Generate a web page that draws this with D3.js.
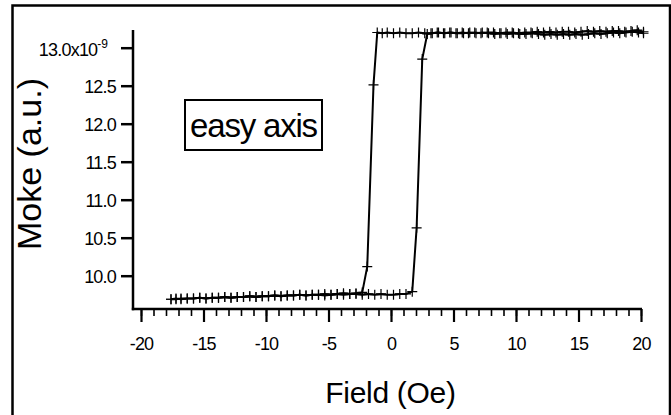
<!DOCTYPE html>
<html lang="en"><head><meta charset="UTF-8">
<title>Moke loop - easy axis</title>
<style type="text/css">
	body {
		margin: 0;
		background-color: #fff;
	}
	svg text {
		font-family: "Liberation Sans", Arial, sans-serif;
		fill: #000;
	}
</style>
<script src="https://d3js.org/d3.v7.min.js" charset="utf-8"></script>
</head>
<body>
<div id="chart"></div>

<script type="text/javascript">
	// field sweep from +20 down to -17.6 (Oe)
	var fieldDown = [20.2, 19.7, 19.2, 18.7, 18.2, 17.7, 17.2, 16.7, 16.2, 15.7,
		15.2, 14.7, 14.2, 13.7, 13.2, 12.7, 12.2, 11.7, 11.2, 10.7,
		10.2, 9.7, 9.2, 8.7, 8.2, 7.7, 7.2, 6.7, 6.2, 5.7,
		5.2, 4.7, 4.2, 3.7, 3.2, 2.7, 2.2, 1.7, 1.2, 0.7,
		0.2, -0.3, -0.7, -1.1, -1.4, -1.9, -2.3, -2.8, -3.3, -3.8,
		-4.3, -4.8, -5.3, -5.8, -6.3, -6.8, -7.3, -7.8, -8.3, -8.8,
		-9.3, -9.8, -10.3, -10.8, -11.3, -11.8, -12.3, -12.8, -13.3, -13.8,
		-14.3, -14.8, -15.3, -15.8, -16.3, -16.8, -17.2, -17.6];
	// moke signal (x10^-9) for the down sweep
	var mokeDown = [13.21, 13.23, 13.22, 13.21, 13.22, 13.22, 13.21, 13.22, 13.21, 13.22,
		13.21, 13.20, 13.21, 13.21, 13.20, 13.21, 13.20, 13.21, 13.20, 13.20,
		13.19, 13.20, 13.20, 13.19, 13.20, 13.20, 13.19, 13.20, 13.19, 13.20,
		13.19, 13.20, 13.19, 13.20, 13.19, 13.19, 13.20, 13.19, 13.19, 13.20,
		13.19, 13.20, 13.19, 13.20, 12.51, 10.12, 9.78, 9.77, 9.76, 9.77,
		9.76, 9.75, 9.76, 9.75, 9.75, 9.74, 9.75, 9.74, 9.74, 9.73,
		9.74, 9.73, 9.73, 9.72, 9.73, 9.72, 9.72, 9.71, 9.72, 9.71,
		9.71, 9.70, 9.71, 9.70, 9.70, 9.70, 9.69, 9.69];

	// field sweep back up from -17.6 to +20
	var fieldUp = [-17.6, -17.2, -16.8, -16.3, -15.8, -15.3, -14.8, -14.3, -13.8, -13.3,
		-12.8, -12.3, -11.8, -11.3, -10.8, -10.3, -9.8, -9.3, -8.8, -8.3,
		-7.8, -7.3, -6.8, -6.3, -5.8, -5.3, -4.8, -4.3, -3.8, -3.3,
		-2.8, -2.3, -1.8, -1.3, -0.8, -0.3, 0.2, 0.7, 1.2, 1.7,
		2.05, 2.5, 2.9, 3.3, 3.8, 4.3, 4.8, 5.3, 5.8, 6.3,
		6.8, 7.3, 7.8, 8.3, 8.8, 9.3, 9.8, 10.3, 10.8, 11.3,
		11.8, 12.3, 12.8, 13.3, 13.8, 14.3, 14.8, 15.3, 15.8, 16.3,
		16.8, 17.3, 17.8, 18.3, 18.8, 19.3, 19.8, 20.2];
	var mokeUp = [9.69, 9.70, 9.69, 9.70, 9.70, 9.71, 9.70, 9.71, 9.71, 9.72,
		9.71, 9.72, 9.72, 9.73, 9.72, 9.73, 9.73, 9.74, 9.73, 9.74,
		9.74, 9.75, 9.74, 9.75, 9.75, 9.74, 9.75, 9.76, 9.75, 9.76,
		9.76, 9.75, 9.76, 9.75, 9.76, 9.75, 9.75, 9.76, 9.76, 9.79,
		10.63, 12.85, 13.18, 13.19, 13.20, 13.19, 13.20, 13.19, 13.19, 13.20,
		13.19, 13.20, 13.19, 13.18, 13.19, 13.18, 13.19, 13.18, 13.18, 13.19,
		13.18, 13.17, 13.18, 13.17, 13.18, 13.17, 13.18, 13.17, 13.18, 13.19,
		13.18, 13.19, 13.20, 13.19, 13.20, 13.21, 13.20, 13.19];

	var xTicks = [-20, -15, -10, -5, 0, 5, 10, 15, 20];
	var xTickLabels = ["-20", "-15", "-10", "-5", "0", "5", "10", "15", "20"];
	var yTicks = [10.0, 10.5, 11.0, 11.5, 12.0, 12.5, 13.0];
	var yTickLabels = ["10.0", "10.5", "11.0", "11.5", "12.0", "12.5", "13.0x10"];

	var W = 671, H = 415;
	var svg = d3.select("#chart")
		.append("svg")
		.attr("width", W)
		.attr("height", H);

	// outer frame
	svg.append("rect")
		.attr("x", 12.5)
		.attr("y", 5.5)
		.attr("width", 657.5)
		.attr("height", 420)
		.attr("fill", "none")
		.attr("stroke", "#000")
		.attr("stroke-width", 2.5);

	var x = d3.scaleLinear().domain([-20, 20]).range([141, 641]);
	var y = d3.scaleLinear().domain([10, 13]).range([275.7, 47.7]);
	var axisX = 133, axisY = 309;

	// x axis: minor ticks every 1 Oe, major every 5
	var xMinor = d3.axisBottom(x).tickValues(d3.range(-20, 21, 1))
		.tickSize(7).tickSizeOuter(0).tickFormat("");
	svg.append("g")
		.attr("transform", "translate(0," + axisY + ")")
		.call(xMinor)
		.call(function (g) {
			g.select(".domain").remove();
			g.selectAll(".tick line").attr("stroke", "#000").attr("stroke-width", 1.6);
		});

	var xMajor = d3.axisBottom(x).tickValues(xTicks)
		.tickSize(13).tickSizeOuter(0)
		.tickFormat(function (d, i) { return xTickLabels[i]; });
	svg.append("g")
		.attr("transform", "translate(0," + axisY + ")")
		.call(xMajor)
		.call(function (g) {
			g.select(".domain").remove();
			g.selectAll(".tick line").attr("stroke", "#000").attr("stroke-width", 2.2);
			g.selectAll(".tick text")
				.attr("y", 40.5).attr("dy", 0)
				.style("font-size", "18px")
				.style("letter-spacing", "-0.8px")
				.style("font-family", "'Liberation Sans', Arial, sans-serif");
		});

	// y axis
	var yAxis = d3.axisLeft(y).tickValues(yTicks)
		.tickSize(12).tickSizeOuter(0)
		.tickFormat(function (d, i) { return yTickLabels[i]; });
	svg.append("g")
		.attr("transform", "translate(" + axisX + ",0)")
		.call(yAxis)
		.call(function (g) {
			g.select(".domain").remove();
			g.selectAll(".tick line").attr("stroke", "#000").attr("stroke-width", 2.5);
			g.selectAll(".tick text")
				.attr("x", -17).attr("dy", "0.35em")
				.style("font-size", "18px")
				.style("letter-spacing", "-0.8px")
				.style("font-family", "'Liberation Sans', Arial, sans-serif");
		});
	// exponent on the top label
	svg.selectAll("g .tick text")
		.filter(function () { return this.textContent === "13.0x10"; })
		.attr("x", -25).attr("dy", "0.42em")
		.append("tspan")
		.attr("dy", -8)
		.style("font-size", "12px")
		.style("letter-spacing", "0px")
		.text("-9");

	// axis lines
	svg.append("line")
		.attr("x1", axisX).attr("x2", axisX)
		.attr("y1", 30).attr("y2", axisY + 1.2)
		.attr("stroke", "#000").attr("stroke-width", 2.5);
	svg.append("line")
		.attr("x1", axisX - 1.2).attr("x2", x(20) + 1)
		.attr("y1", axisY).attr("y2", axisY)
		.attr("stroke", "#000").attr("stroke-width", 2.5);

	// data
	var down = fieldDown.map(function (f, i) { return [f, mokeDown[i]]; });
	var up = fieldUp.map(function (f, i) { return [f, mokeUp[i]]; });
	var line = d3.line()
		.x(function (d) { return x(d[0]); })
		.y(function (d) { return y(d[1]); });

	[down, up].forEach(function (s) {
		svg.append("path")
			.datum(s)
			.attr("d", line)
			.attr("fill", "none")
			.attr("stroke", "#000")
			.attr("stroke-width", 2)
			.attr("stroke-linejoin", "round");
	});

	svg.selectAll("path.mark")
		.data(down.concat(up))
		.enter()
		.append("path")
		.attr("class", "mark")
		.attr("transform", function (d) { return "translate(" + x(d[0]) + "," + y(d[1]) + ")"; })
		.attr("d", "M-5,0H5M0,-5V5")
		.attr("stroke", "#000")
		.attr("stroke-width", 1.2)
		.attr("fill", "none");

	// legend box
	svg.append("rect")
		.attr("x", 185).attr("y", 100)
		.attr("width", 137).attr("height", 50)
		.attr("fill", "#fff")
		.attr("stroke", "#000")
		.attr("stroke-width", 2);
	svg.append("text")
		.attr("x", 253.5).attr("y", 137)
		.attr("text-anchor", "middle")
		.style("font-size", "33px")
		.style("letter-spacing", "-1.2px")
		.text("easy axis");

	// axis titles
	svg.append("text")
		.attr("x", 390.5).attr("y", 403)
		.attr("text-anchor", "middle")
		.style("font-size", "30px")
		.style("letter-spacing", "-0.3px")
		.text("Field (Oe)");
	svg.append("text")
		.attr("transform", "translate(41,164) rotate(-90)")
		.attr("text-anchor", "middle")
		.style("font-size", "34px")
		.text("Moke (a.u.)");
</script>
</body></html>
